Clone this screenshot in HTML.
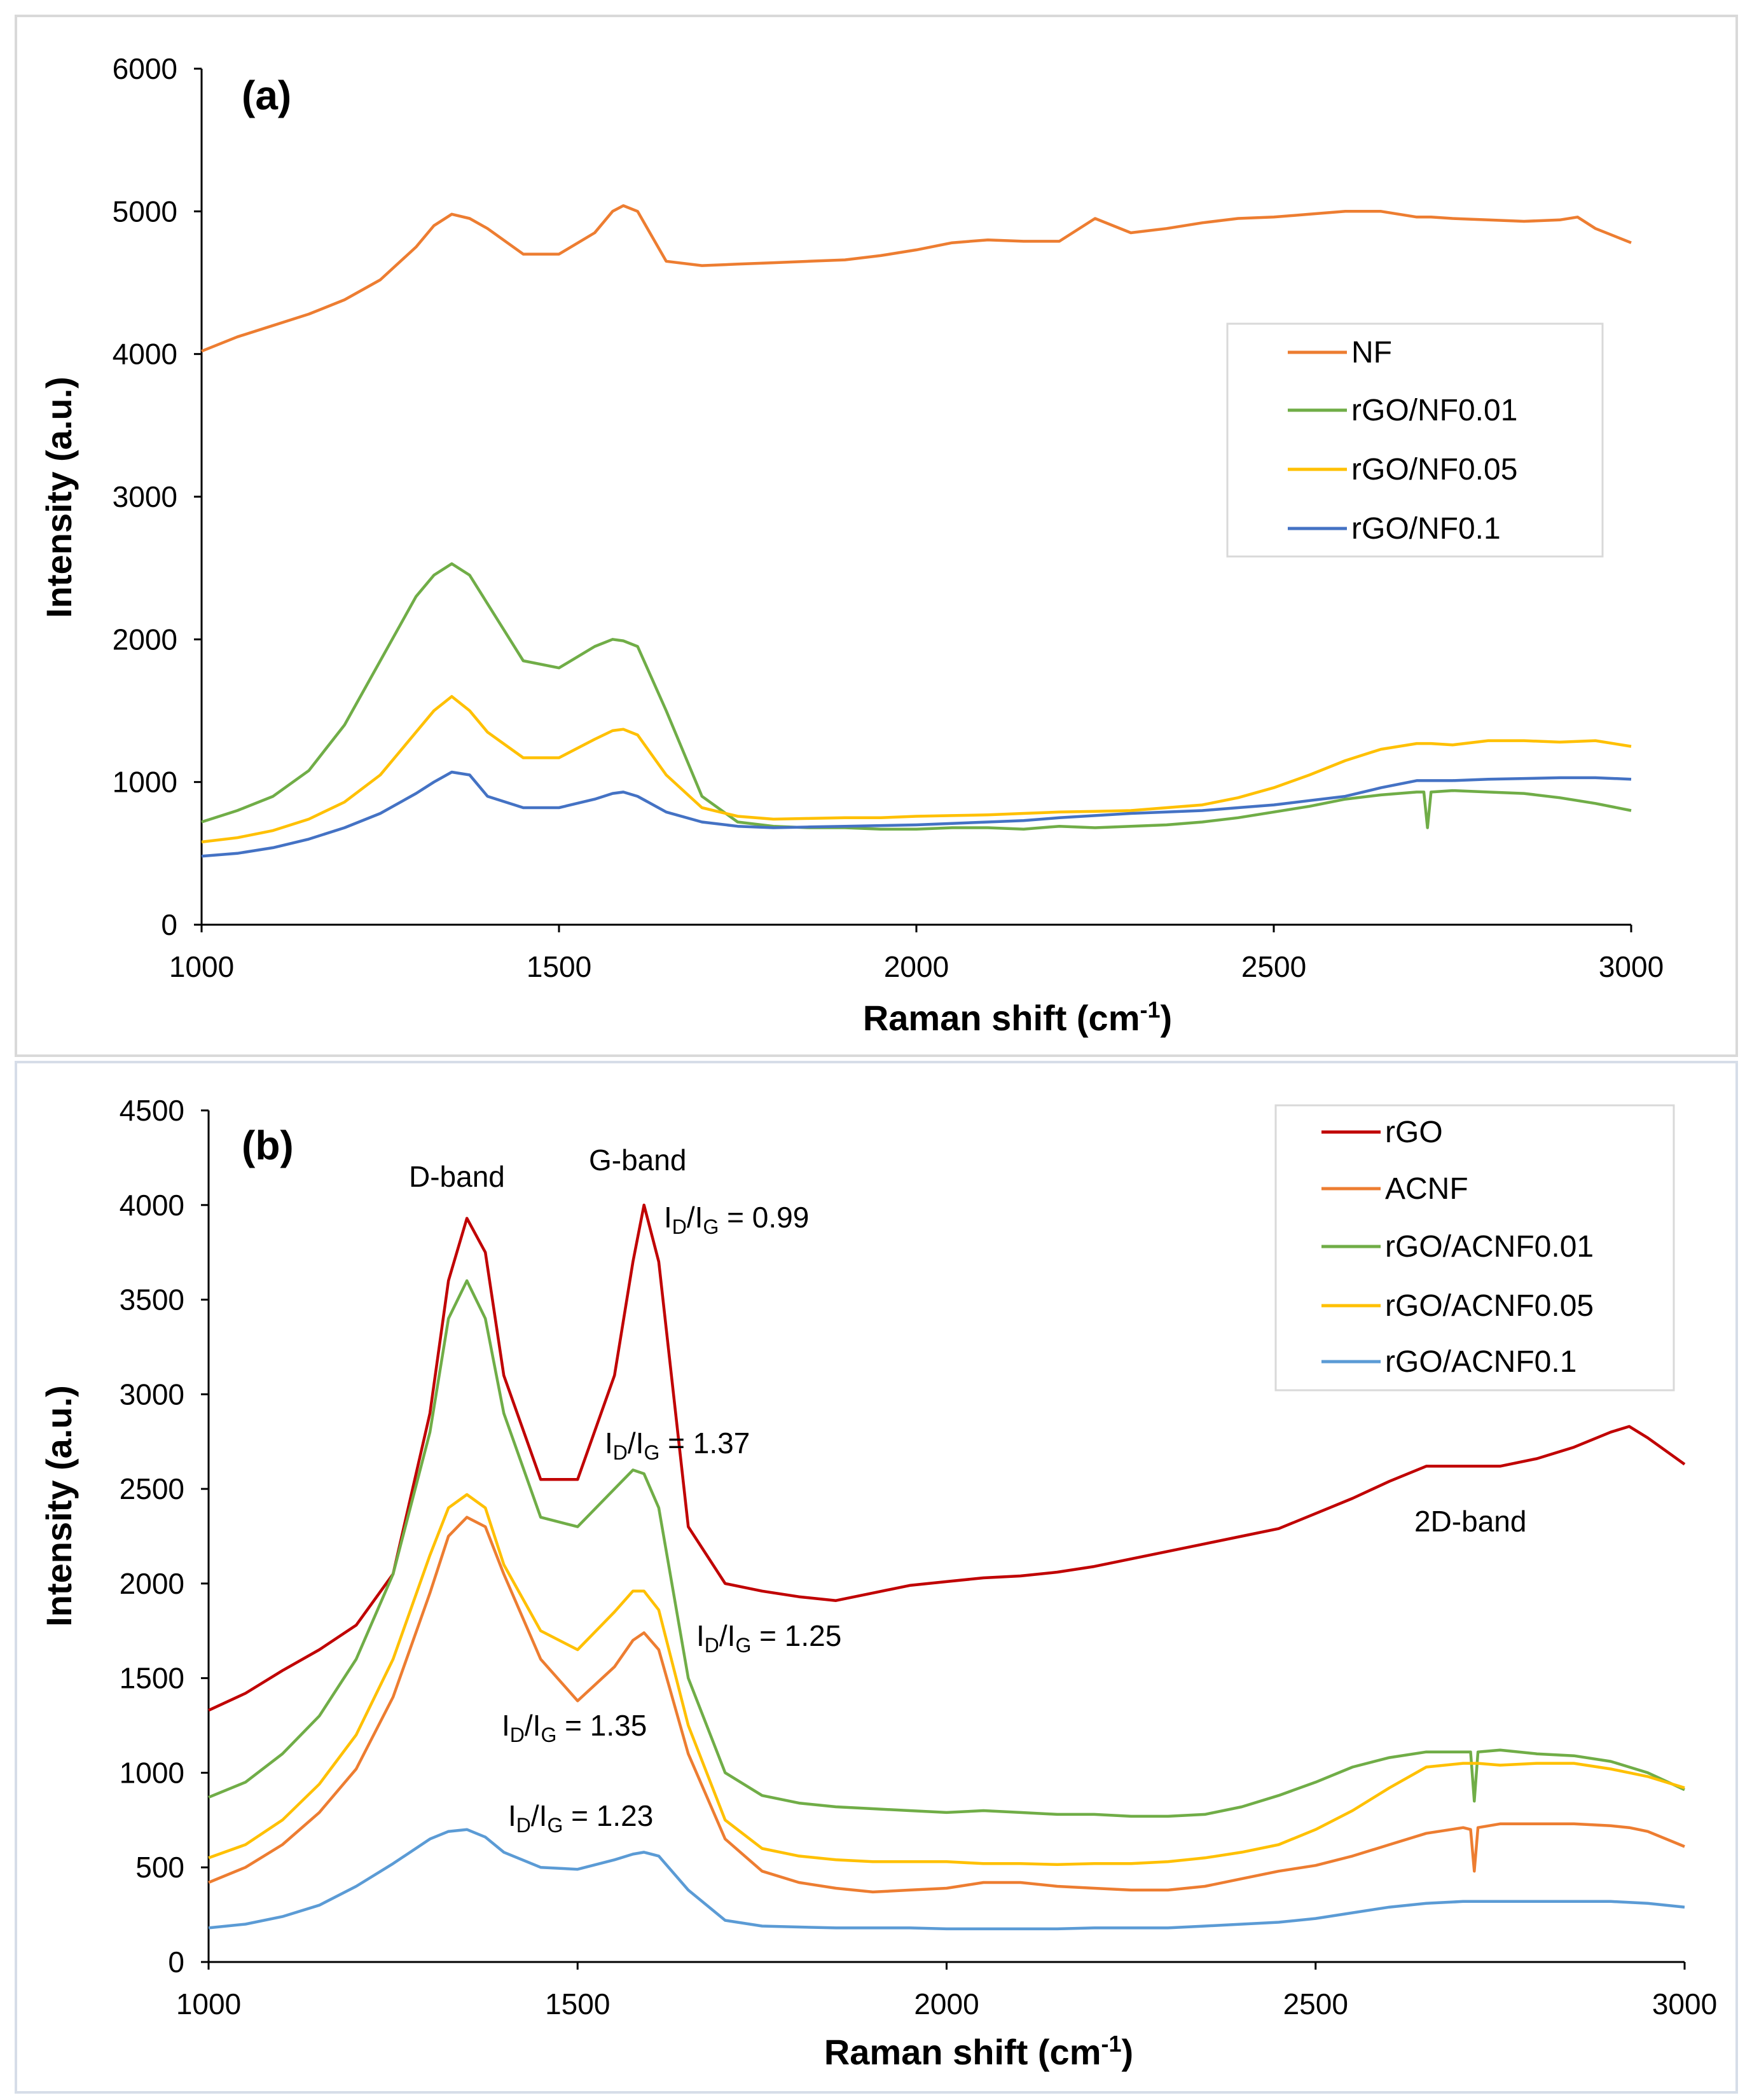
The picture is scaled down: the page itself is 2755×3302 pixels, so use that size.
<!DOCTYPE html>
<html><head><meta charset="utf-8"><style>
html,body{margin:0;padding:0;background:#fff;}
svg{display:block;font-family:"Liberation Sans",Arial,sans-serif;}
</style></head><body>
<svg id="fig" width="2755" height="3302" viewBox="0 0 2755 3302" xmlns="http://www.w3.org/2000/svg">
<rect x="0" y="0" width="2755" height="3302" fill="#fff"/>
<rect x="25" y="25" width="2706" height="1635" fill="none" stroke="#d9d9d9" stroke-width="4"/>
<rect x="25" y="1670" width="2706" height="1620" fill="none" stroke="#d6dde8" stroke-width="4"/>
<g id="pa"></g>
<g id="pb"></g>
</svg>
<script>
const X = [1000,1050,1100,1150,1200,1250,1300,1325,1350,1375,1400,1450,1500,1550,1575,1590,1610,1650,1700,1750,1800,1850,1900,1950,2000,2050,2100,2150,2200,2250,2300,2350,2400,2450,2500,2550,2600,2650,2700,2710,2715,2720,2750,2800,2850,2900,2925,2950,3000];
const xTicks = [1000,1500,2000,2500,3000];
const yTicksA = [0,1000,2000,3000,4000,5000,6000];
const yTicksB = [0,500,1000,1500,2000,2500,3000,3500,4000,4500];
const seriesNamesA = ["NF","rGO/NF0.01","rGO/NF0.05","rGO/NF0.1"];
const nfVals = [4020,4120,4200,4280,4380,4520,4750,4900,4980,4950,4880,4700,4700,4850,5000,5040,5000,4650,4620,4630,4640,4650,4660,4690,4730,4780,4800,4790,4790,4950,4850,4880,4920,4950,4960,4980,5000,5000,4960,4960,4960,4960,4950,4940,4930,4940,4960,4880,4780];
const nf01Vals = [720,800,900,1080,1400,1850,2300,2450,2530,2450,2250,1850,1800,1950,2000,1990,1950,1500,900,720,690,680,680,670,670,680,680,670,690,680,690,700,720,750,790,830,880,910,930,930,680,930,940,930,920,890,870,850,800];
const nf05Vals = [580,610,660,740,860,1050,1350,1500,1600,1500,1350,1170,1170,1300,1360,1370,1330,1050,820,760,740,745,750,750,760,765,770,780,790,795,800,820,840,890,960,1050,1150,1230,1270,1270,1270,1270,1260,1290,1290,1280,1285,1290,1250];
const nf1Vals = [480,500,540,600,680,780,920,1000,1070,1050,900,820,820,880,920,930,900,790,720,690,680,685,690,695,700,710,720,730,750,765,780,790,800,820,840,870,900,960,1010,1010,1010,1010,1010,1020,1025,1030,1030,1030,1020];
const seriesNamesB = ["rGO","ACNF","rGO/ACNF0.01","rGO/ACNF0.05","rGO/ACNF0.1"];
const rgoVals = [1330,1420,1540,1650,1780,2050,2900,3600,3930,3750,3100,2550,2550,3100,3700,4000,3700,2300,2000,1960,1930,1910,1950,1990,2010,2030,2040,2060,2090,2130,2170,2210,2250,2290,2370,2450,2540,2620,2620,2620,2620,2620,2620,2660,2720,2800,2830,2770,2630];
const acnfVals = [420,500,620,790,1020,1400,1950,2250,2350,2300,2050,1600,1380,1560,1700,1740,1650,1100,650,480,420,390,370,380,390,420,420,400,390,380,380,400,440,480,510,560,620,680,710,700,480,710,730,730,730,720,710,690,610];
const ac01Vals = [870,950,1100,1300,1600,2050,2800,3400,3600,3400,2900,2350,2300,2500,2600,2580,2400,1500,1000,880,840,820,810,800,790,800,790,780,780,770,770,780,820,880,950,1030,1080,1110,1110,1110,850,1110,1120,1100,1090,1060,1030,1000,910];
const ac05Vals = [550,620,750,940,1200,1600,2150,2400,2470,2400,2100,1750,1650,1850,1960,1960,1860,1250,750,600,560,540,530,530,530,520,520,515,520,520,530,550,580,620,700,800,920,1030,1050,1050,1050,1050,1040,1050,1050,1020,1000,980,920];
const ac1Vals = [180,200,240,300,400,520,650,690,700,660,580,500,490,540,570,580,560,380,220,190,185,180,180,180,175,175,175,175,180,180,180,190,200,210,230,260,290,310,320,320,320,320,320,320,320,320,315,310,290];

const NS="http://www.w3.org/2000/svg";
function mk(parent,tag,attrs,text){const e=document.createElementNS(NS,tag);for(const k in attrs)e.setAttribute(k,attrs[k]);if(text!==undefined)e.textContent=text;parent.appendChild(e);return e;}

function panel(g,cfg){
  const sx=v=>cfg.x0+(v-1000)/2000*(cfg.x1-cfg.x0);
  const sy=v=>cfg.y0-(v-0)/cfg.ymax*(cfg.y0-cfg.y1);
  // axes
  let ax=mk(g,'line',{x1:cfg.x0,y1:cfg.y0,x2:cfg.x1,y2:cfg.y0,stroke:'#000','stroke-width':3});
  
  
  let ay=mk(g,'line',{x1:cfg.x0,y1:cfg.y0,x2:cfg.x0,y2:cfg.y1,stroke:'#000','stroke-width':3});
  
  
  xTicks.forEach(t=>{
    const tk=mk(g,'line',{x1:sx(t),y1:cfg.y0,x2:sx(t),y2:cfg.y0+12,stroke:'#000','stroke-width':3});
    
    
    const tl=mk(g,'text',{x:sx(t),y:cfg.y0+82,'text-anchor':'middle','font-size':46,fill:'#000'},String(t));
    
    
  });
  cfg.yt.forEach(t=>{
    const tk=mk(g,'line',{x1:cfg.x0-12,y1:sy(t),x2:cfg.x0,y2:sy(t),stroke:'#000','stroke-width':3});
    
    
    const tl=mk(g,'text',{x:cfg.x0-38,y:sy(t)+16,'text-anchor':'end','font-size':46,fill:'#000'},String(t));
    
    
  });
  cfg.series.forEach(s=>{
    const pts=X.map((x,i)=>sx(x).toFixed(1)+','+sy(s.v[i]).toFixed(1)).join(' ');
    const p=mk(g,'polyline',{points:pts,fill:'none',stroke:s.c,'stroke-width':4.5,'stroke-linejoin':'round'});
    
    
  });
  // titles
  const xt=mk(g,'text',{x:cfg.xtx,y:cfg.xty,'text-anchor':'middle','font-size':56,'font-weight':'bold'});
  
  
  xt.innerHTML='Raman shift (cm<tspan dy="-20" font-size="36">-1</tspan><tspan dy="20">)</tspan>';
  const yt=mk(g,'text',{x:0,y:0,'text-anchor':'middle','font-size':56,'font-weight':'bold',transform:`translate(112,${cfg.ytc}) rotate(-90)`},'Intensity (a.u.)');
  
  
  const lb=mk(g,'text',{x:380,y:cfg.lbly,'font-size':64,'font-weight':'bold'},cfg.lbl);
  
  
  // legend
  const L=cfg.leg;
  const lr=mk(g,'rect',{x:L.x,y:L.y,width:L.w,height:L.h,fill:'#fff',stroke:'#d9d9d9','stroke-width':3});
  
  
  cfg.series.forEach((s,i)=>{
    const yy=L.ys[i];
    const ll=mk(g,'line',{x1:L.lx,y1:yy,x2:L.lx+93,y2:yy,stroke:s.c,'stroke-width':5});
    
    
    const lt=mk(g,'text',{x:L.lx+100,y:yy+16,'font-size':48},s.n);
    
    
  });
}

panel(document.getElementById('pa'),{x0:317,x1:2565,y0:1454,y1:108,ymax:6000,yt:yTicksA,
  xtx:1600,xty:1620,ytc:782,lbl:'(a)',lbly:172,
  leg:{x:1930,y:509,w:590,h:366,lx:2025,ys:[554,645,738,831]},
  series:[{n:seriesNamesA[0],c:'#ED7D31',v:nfVals},{n:seriesNamesA[1],c:'#70AD47',v:nf01Vals},{n:seriesNamesA[2],c:'#FFC000',v:nf05Vals},{n:seriesNamesA[3],c:'#4472C4',v:nf1Vals}]});

panel(document.getElementById('pb'),{x0:328,x1:2649,y0:3085,y1:1746,ymax:4500,yt:yTicksB,
  xtx:1539,xty:3246,ytc:2368,lbl:'(b)',lbly:1823,
  leg:{x:2006,y:1738,w:626,h:448,lx:2078,ys:[1780,1869,1960,2053,2141]},
  series:[{n:seriesNamesB[0],c:'#C00000',v:rgoVals},{n:seriesNamesB[1],c:'#ED7D31',v:acnfVals},{n:seriesNamesB[2],c:'#70AD47',v:ac01Vals},{n:seriesNamesB[3],c:'#FFC000',v:ac05Vals},{n:seriesNamesB[4],c:'#5B9BD5',v:ac1Vals}]});

// annotations
const pb=document.getElementById('pb');
function ann(x,y,html,name){const t=mk(pb,'text',{x:x,y:y,'font-size':46});t.innerHTML=html;}
ann(643,1866,'D-band','d-band-label');
ann(926,1840,'G-band','g-band-label');
ann(2224,2408,'2D-band','2d-band-label');
const ratio=v=>'I<tspan dy="10" font-size="32">D</tspan><tspan dy="-10">/I</tspan><tspan dy="10" font-size="32">G</tspan><tspan dy="-10"> = '+v+'</tspan>';
ann(1044,1930,ratio('0.99'),'ratio-rgo');
ann(951,2285,ratio('1.37'),'ratio-acnf001');
ann(1095,2588,ratio('1.25'),'ratio-acnf005');
ann(789,2729,ratio('1.35'),'ratio-acnf');
ann(799,2871,ratio('1.23'),'ratio-acnf01');
</script>
</body></html>
